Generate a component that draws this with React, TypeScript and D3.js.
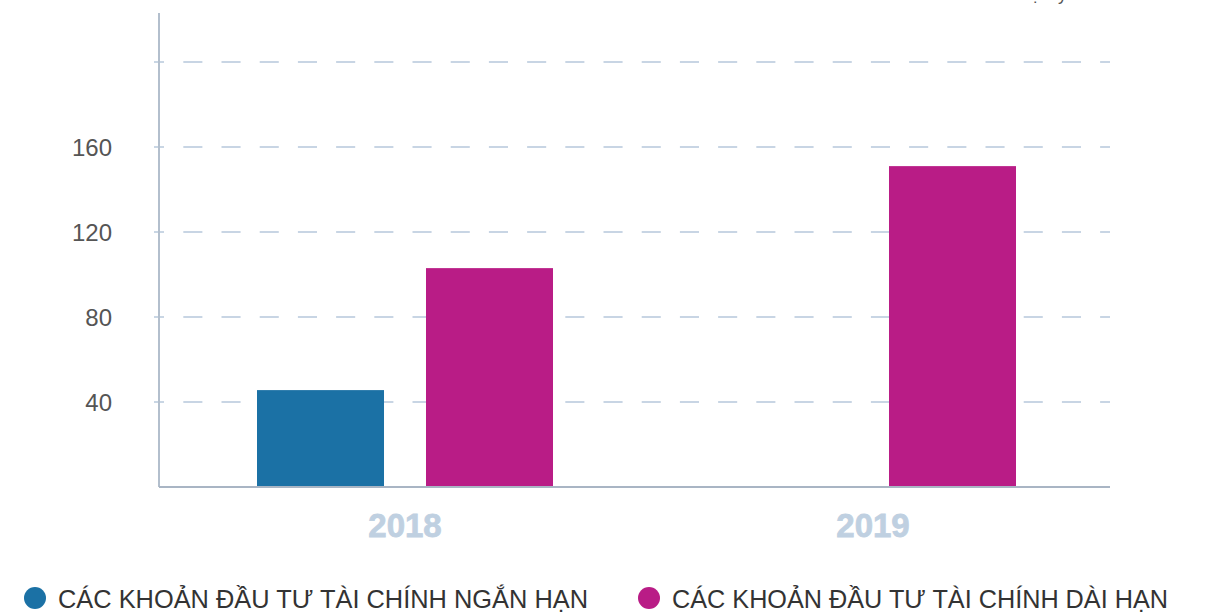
import React from 'react';
import * as d3 from 'd3';

const years = ['2018', '2019'];
const seriesNames = ['CÁC KHOẢN ĐẦU TƯ TÀI CHÍNH NGẮN HẠN', 'CÁC KHOẢN ĐẦU TƯ TÀI CHÍNH DÀI HẠN'];
const shortTerm = [45.6, 0];
const longTerm = [103, 151];
const yTicks = [40, 80, 120, 160];
const gridValues = [40, 80, 120, 160, 200];
const unitLabel = 'Đơn vị: Tỷ VND';

const colors = ['#1b71a5', '#b91c86'];

const App = () => {
  const width = 1208;
  const height = 614;
  const left = 159;
  const right = 1110;
  const bottom = 487;
  const top = 13;

  const y = d3.scaleLinear().domain([0, 40]).range([bottom, bottom - 85]);
  const x0 = d3.scaleBand().domain(years).range([173.5, 1099.5]).padding(0);
  const x1 = d3.scaleBand().domain(['0', '1']).range([-148, 148]).paddingInner(0.2485).paddingOuter(0);
  // year labels sit slightly off the group centres in the original
  const xLabel = d3.scalePoint().domain(years).range([405, 873]);

  const data = years.map((yr, i) => ({ year: yr, values: [shortTerm[i], longTerm[i]] }));
  const font = '"Liberation Sans", Arial, Helvetica, sans-serif';

  return (
    <svg width={width} height={height} style={{ position: 'absolute', left: 0, top: 0 }}>
      <text x={right} y={0} textAnchor="end" fontFamily={font} fontSize={18} fill="#555">
        {unitLabel}
      </text>

      {gridValues.map((v) => (
        <g key={v}>
          <line x1={154} x2={164} y1={y(v)} y2={y(v)} stroke="#b7c8db" strokeWidth={1.5} />
          <line x1={183.3} x2={right} y1={y(v)} y2={y(v)} stroke="#b7c8db" strokeWidth={1.5} strokeDasharray="19.1,19.1" />
        </g>
      ))}

      {yTicks.map((v) => (
        <text key={v} x={112} y={y(v)} dy="0.36em" textAnchor="end" fontFamily={font} fontSize={24} fill="#555">
          {v}
        </text>
      ))}

      {data.map((d) => (
        <g key={d.year} transform={`translate(${x0(d.year)! + x0.bandwidth() / 2},0)`}>
          {d.values.map((v, i) =>
            v > 0 ? (
              <rect
                key={i}
                x={x1(String(i))}
                y={y(v)}
                width={x1.bandwidth()}
                height={bottom - y(v)}
                fill={colors[i]}
              />
            ) : null
          )}
        </g>
      ))}

      {years.map((yr) => (
        <text
          key={yr}
          x={xLabel(yr)}
          y={537}
          textAnchor="middle"
          fontFamily={font}
          fontWeight="bold"
          fontSize={33}
          fill="#bfd0e1"
          stroke="#bfd0e1"
          strokeWidth={0.8}
        >
          {yr}
        </text>
      ))}

      <line x1={left} x2={left} y1={top} y2={bottom} stroke="#b3bfcd" strokeWidth={2} />
      <line x1={left} x2={right} y1={bottom} y2={bottom} stroke="#a9b5c4" strokeWidth={2} />

      {seriesNames.map((name, i) => {
        const cx = i === 0 ? 35 : 649;
        const len = i === 0 ? 530 : 496;
        return (
          <g key={name}>
            <circle cx={cx} cy={598} r={11} fill={colors[i]} />
            <text
              x={cx + 23}
              y={608}
              fontFamily={font}
              fontSize={25}
              fill="#333"
              textLength={len}
              lengthAdjust="spacingAndGlyphs"
            >
              {name}
            </text>
          </g>
        );
      })}
    </svg>
  );
};

export default App;
